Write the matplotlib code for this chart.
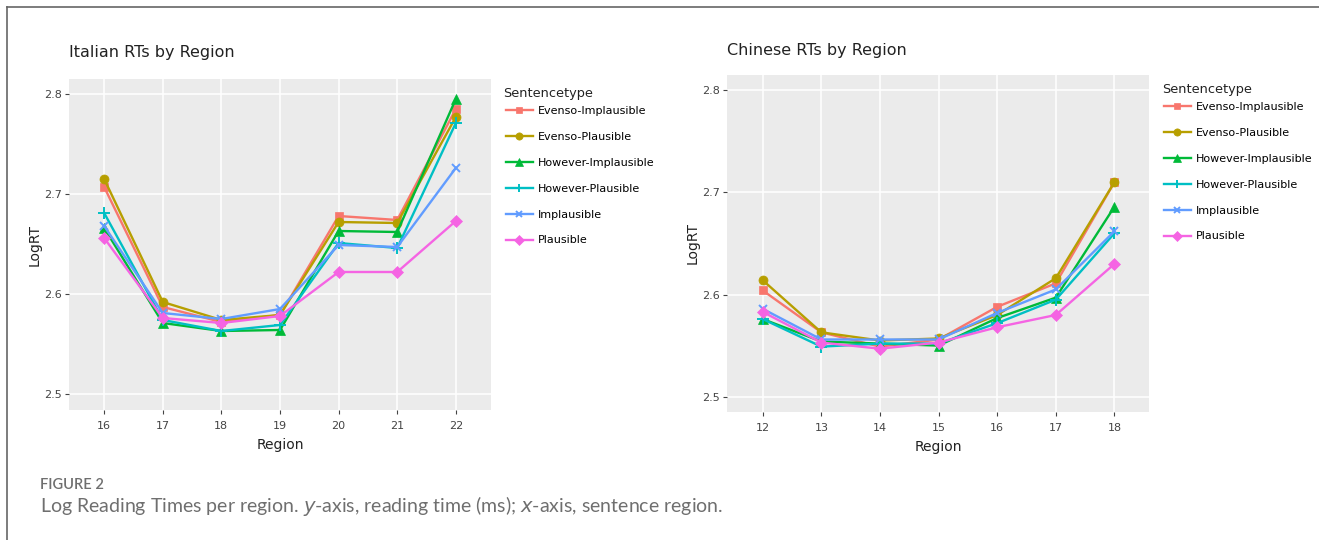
import matplotlib
matplotlib.use("Agg")
import matplotlib.pyplot as plt
from matplotlib.lines import Line2D

# ---- data ----
series_names = ["Evenso-Implausible", "Evenso-Plausible", "However-Implausible",
                "However-Plausible", "Implausible", "Plausible"]

italian_regions = [16, 17, 18, 19, 20, 21, 22]
it_evenso_implausible = [2.707, 2.587, 2.572, 2.579, 2.678, 2.674, 2.785]
it_evenso_plausible = [2.715, 2.592, 2.574, 2.579, 2.672, 2.671, 2.777]
it_however_implausible = [2.666, 2.571, 2.563, 2.564, 2.663, 2.662, 2.795]
it_however_plausible = [2.681, 2.574, 2.563, 2.569, 2.651, 2.646, 2.771]
it_implausible = [2.668, 2.581, 2.575, 2.585, 2.649, 2.647, 2.726]
it_plausible = [2.656, 2.576, 2.571, 2.578, 2.622, 2.622, 2.673]

chinese_regions = [12, 13, 14, 15, 16, 17, 18]
cn_evenso_implausible = [2.604, 2.563, 2.549, 2.556, 2.588, 2.611, 2.710]
cn_evenso_plausible = [2.614, 2.563, 2.555, 2.557, 2.580, 2.616, 2.710]
cn_however_implausible = [2.576, 2.554, 2.552, 2.550, 2.577, 2.597, 2.686]
cn_however_plausible = [2.576, 2.549, 2.552, 2.552, 2.572, 2.595, 2.660]
cn_implausible = [2.586, 2.556, 2.556, 2.556, 2.582, 2.605, 2.662]
cn_plausible = [2.583, 2.553, 2.547, 2.553, 2.568, 2.580, 2.630]

y_ticks = [2.5, 2.6, 2.7, 2.8]

italian = [it_evenso_implausible, it_evenso_plausible, it_however_implausible,
           it_however_plausible, it_implausible, it_plausible]
chinese = [cn_evenso_implausible, cn_evenso_plausible, cn_however_implausible,
           cn_however_plausible, cn_implausible, cn_plausible]

colors = ["#F8766D", "#B79F00", "#00BA38", "#00BFC4", "#619CFF", "#F564E3"]
markers = ["s", "o", "^", "+", "x", "D"]
msizes = [6, 6.5, 6.5, 8, 6, 6]

W, H = 1319, 540
fig = plt.figure(figsize=(W / 100, H / 100), dpi=100)
fig.patch.set_facecolor("white")


def px_axes(x0, y0, x1, y1):
    return fig.add_axes([x0 / W, 1 - y1 / H, (x1 - x0) / W, (y1 - y0) / H])


def style(ax, regions, xlim, ylim, title, pad):
    ax.set_facecolor("#EBEBEB")
    for s in ax.spines.values():
        s.set_visible(False)
    ax.set_xlim(*xlim)
    ax.set_ylim(*ylim)
    ax.set_xticks(regions)
    ax.set_xticklabels([str(r) for r in regions])
    ax.set_yticks(y_ticks)
    ax.set_yticklabels([f"{t:.1f}" for t in y_ticks])
    ax.grid(True, color="white", linewidth=1.1)
    ax.set_axisbelow(True)
    ax.tick_params(colors="#444444", labelsize=8, length=3, width=0.8,
                   labelcolor="#444444", pad=2)
    ax.tick_params(axis="x", pad=5)
    ax.set_xlabel("Region", fontsize=10, color="#222222", labelpad=5)
    ax.set_ylabel("LogRT", fontsize=10, color="#222222", labelpad=2)
    ax.set_title(title, fontsize=11.5, color="#222222", loc="left", x=0.0,
                 pad=pad)


def draw(ax, regions, data):
    handles = []
    for vals, name, c, m, ms in zip(data, series_names, colors, markers, msizes):
        h, = ax.plot(regions, vals, color=c, marker=m, markersize=ms,
                     linewidth=1.7, markeredgewidth=1.4 if m in "+x" else 0.5,
                     markeredgecolor=c, label=name)
        handles.append(h)
    return handles


ax1 = px_axes(69, 79, 491, 410)
h1 = draw(ax1, italian_regions, italian)
style(ax1, italian_regions, (15.4, 22.6), (2.484, 2.815), "Italian RTs by Region", 16.2)

ax2 = px_axes(727, 75, 1149, 412)
h2 = draw(ax2, chinese_regions, chinese)
style(ax2, chinese_regions, (11.39, 18.59), (2.485, 2.815), "Chinese RTs by Region", 14.2)

for handles, tx, ty, lx, ly in [(h1, 503, 94, 501.5, 101.5),
                                (h2, 1162, 90, 1159.5, 97.5)]:
    fig.text(tx / W, 1 - ty / H, "Sentencetype", fontsize=9.3, color="#222222",
             va="center", ha="left")
    fig.legend(handles=handles, labels=series_names,
               loc="upper left", bbox_to_anchor=(lx / W, 1 - ly / H),
               frameon=False, fontsize=8, markerscale=0.8,
               handlelength=2.4, labelspacing=1.43, handletextpad=0.5,
               borderaxespad=0)

# outer frame (top and left edges)
fig.add_artist(Line2D([7 / W, 1], [1 - 7 / H, 1 - 7 / H], color="#666666",
                      linewidth=1.2, transform=fig.transFigure))
fig.add_artist(Line2D([7 / W, 7 / W], [0, 1 - 7 / H], color="#666666",
                      linewidth=1.2, transform=fig.transFigure))

# caption
fig.text(40 / W, 1 - 485 / H, "FIGURE 2", fontsize=10.5, color="#6f6f6f",
         family="Lato", fontweight="semibold", va="center", ha="left")
fig.text(40 / W, 1 - 506 / H,
         r"Log Reading Times per region. $\it{y}$-axis, reading time (ms); $\it{x}$-axis, sentence region.",
         fontsize=14, color="#6f6f6f", family="Lato", va="center", ha="left")

fig.savefig("out.png", dpi=100, facecolor="white")
